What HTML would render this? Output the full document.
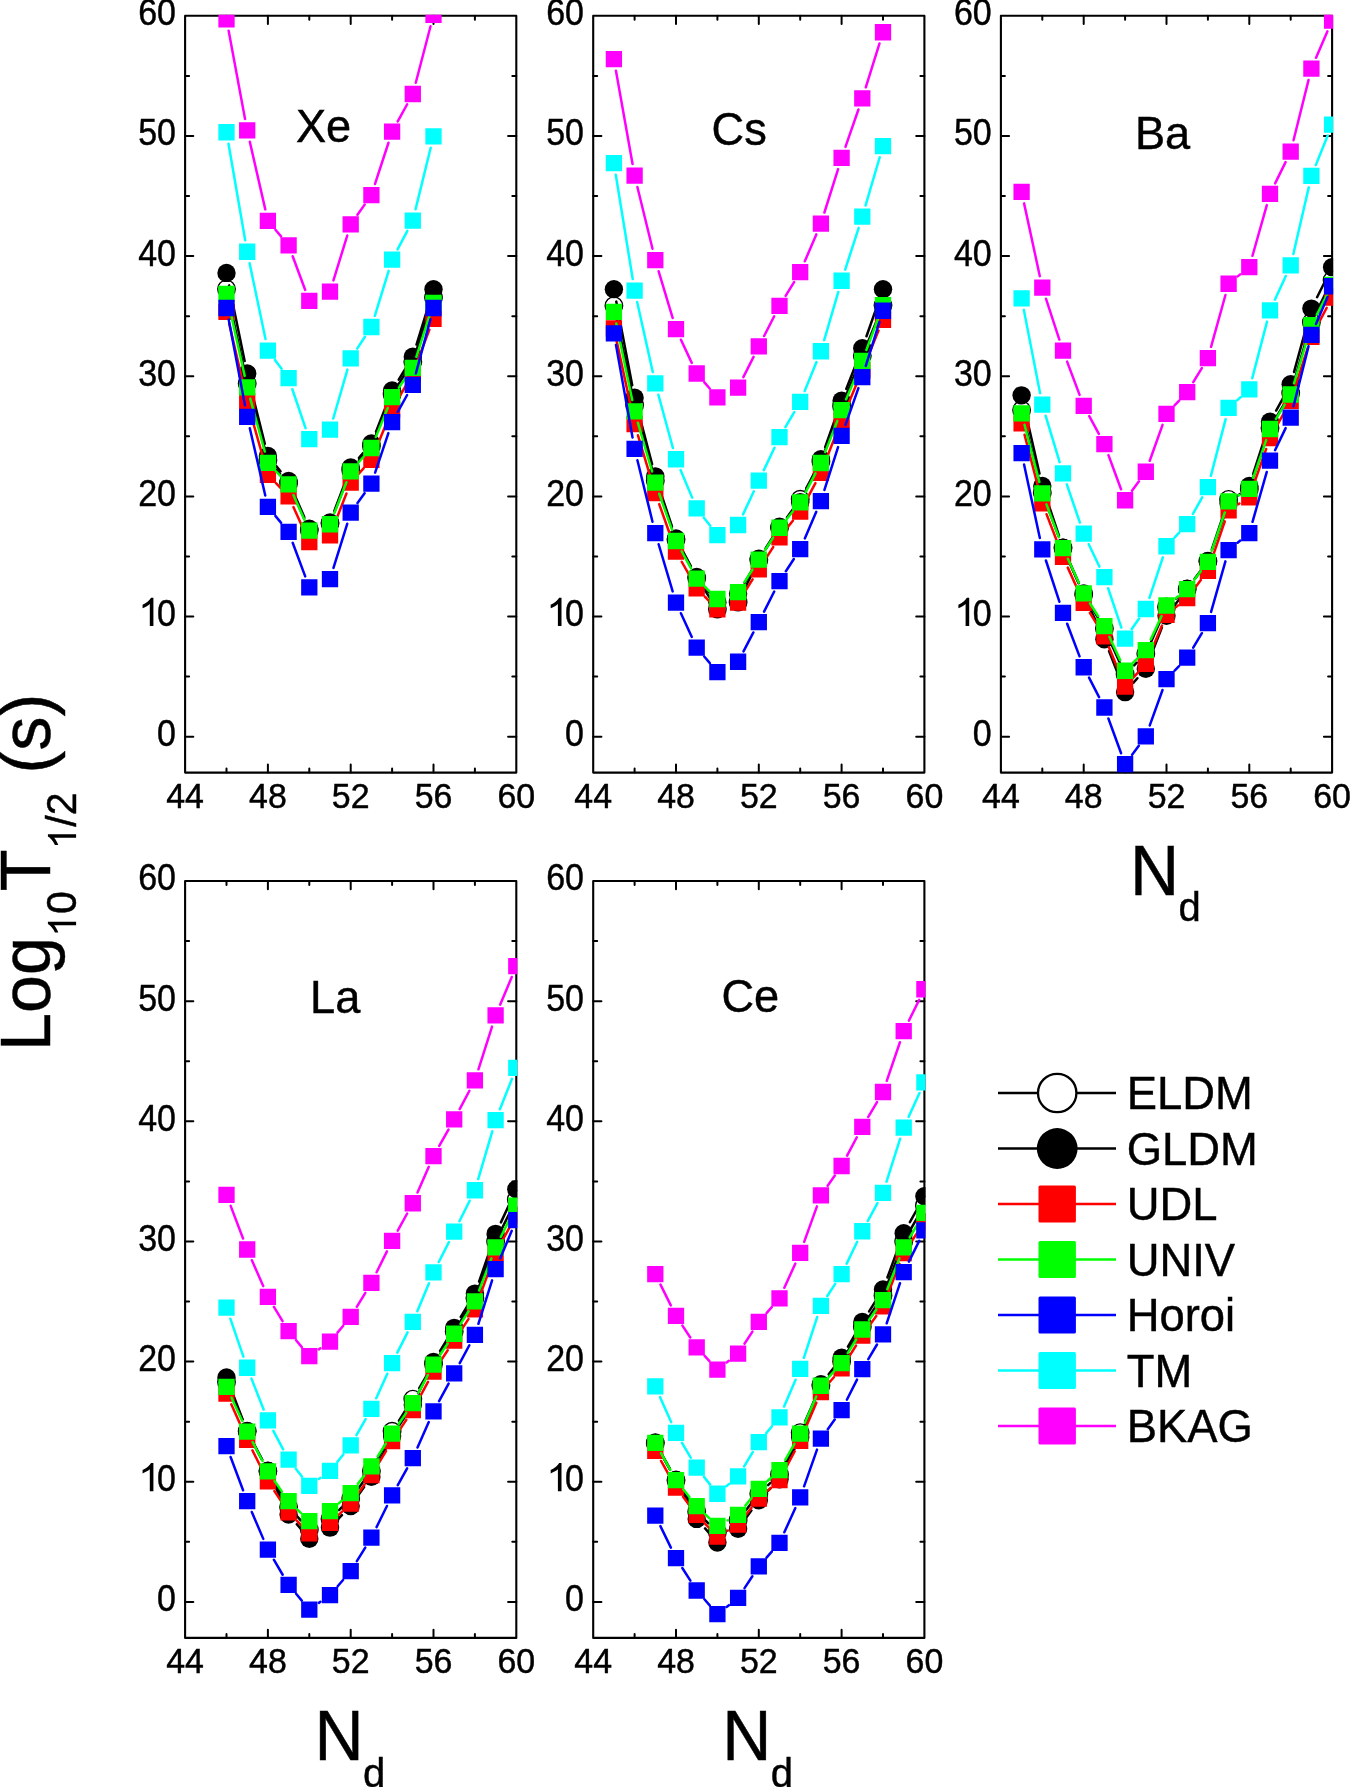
<!DOCTYPE html><html><head><meta charset="utf-8"><style>html,body{margin:0;padding:0;background:#fff;}svg{display:block;will-change:transform;}text{font-family:"Liberation Sans",sans-serif;fill:#000;stroke:#000;stroke-width:0.45px;}</style></head><body>
<svg width="1350" height="1787" viewBox="0 0 1350 1787">
<rect width="1350" height="1787" fill="#fff"/>
<defs>
<clipPath id="c0"><rect x="184.05" y="14.75" width="333.3" height="758.9"/></clipPath>
<clipPath id="c1"><rect x="592.15" y="14.75" width="333.3" height="758.9"/></clipPath>
<clipPath id="c2"><rect x="999.85" y="14.75" width="333.3" height="758.9"/></clipPath>
<clipPath id="c3"><rect x="184.05" y="879.95" width="333.3" height="759"/></clipPath>
<clipPath id="c4"><rect x="592.15" y="879.95" width="333.3" height="759"/></clipPath>
</defs>
<path d="M226.5 772.6v-4M226.5 15.8v4M267.9 772.6v-8.2M267.9 15.8v8.2M309.3 772.6v-4M309.3 15.8v4M350.7 772.6v-8.2M350.7 15.8v8.2M392.1 772.6v-4M392.1 15.8v4M433.5 772.6v-8.2M433.5 15.8v8.2M474.9 772.6v-4M474.9 15.8v4M185.1 736.7h8.2M516.3 736.7h-8.2M185.1 676.62h4M516.3 676.62h-4M185.1 616.55h8.2M516.3 616.55h-8.2M185.1 556.48h4M516.3 556.48h-4M185.1 496.4h8.2M516.3 496.4h-8.2M185.1 436.33h4M516.3 436.33h-4M185.1 376.25h8.2M516.3 376.25h-8.2M185.1 316.18h4M516.3 316.18h-4M185.1 256.1h8.2M516.3 256.1h-8.2M185.1 196.02h4M516.3 196.02h-4M185.1 135.95h8.2M516.3 135.95h-8.2M185.1 75.88h4M516.3 75.88h-4" stroke="#000" stroke-width="2" stroke-linecap="round" fill="none"/>
<rect x="185.1" y="15.8" width="331.2" height="756.8" fill="none" stroke="#000" stroke-width="2.1" stroke-linejoin="round"/>
<g transform="translate(175.9 746.15)"><text x="0" y="0" font-size="36" transform="translate(-18.88 0) scale(0.943 1)">0</text></g>
<g transform="translate(175.9 626)"><path d="M763 0H583V1098Q518 1038 412 979Q306 920 222 890V1057Q373 1124 486 1221Q599 1318 646 1409H763Z" transform="translate(-37.76 0) scale(0.02 -0.02)"/><text x="0" y="0" font-size="36" transform="translate(-18.88 0) scale(0.943 1)">0</text></g>
<g transform="translate(175.9 505.85)"><text x="0" y="0" font-size="36" transform="translate(-37.76 0) scale(0.943 1)">20</text></g>
<g transform="translate(175.9 385.7)"><text x="0" y="0" font-size="36" transform="translate(-37.76 0) scale(0.943 1)">30</text></g>
<g transform="translate(175.9 265.55)"><text x="0" y="0" font-size="36" transform="translate(-37.76 0) scale(0.943 1)">40</text></g>
<g transform="translate(175.9 145.4)"><text x="0" y="0" font-size="36" transform="translate(-37.76 0) scale(0.943 1)">50</text></g>
<g transform="translate(175.9 25.25)"><text x="0" y="0" font-size="36" transform="translate(-37.76 0) scale(0.943 1)">60</text></g>
<g transform="translate(185.1 808)"><text x="0" y="0" font-size="35.2" transform="translate(-18.87 0) scale(0.964 1)">44</text></g>
<g transform="translate(267.9 808)"><text x="0" y="0" font-size="35.2" transform="translate(-18.87 0) scale(0.964 1)">48</text></g>
<g transform="translate(350.7 808)"><text x="0" y="0" font-size="35.2" transform="translate(-18.87 0) scale(0.964 1)">52</text></g>
<g transform="translate(433.5 808)"><text x="0" y="0" font-size="35.2" transform="translate(-18.87 0) scale(0.964 1)">56</text></g>
<g transform="translate(516.3 808)"><text x="0" y="0" font-size="35.2" transform="translate(-18.87 0) scale(0.964 1)">60</text></g>
<g clip-path="url(#c0)">
<path d="M229.22 301.31L244.48 371.05M250.5 395.72L264.6 448.09M276.43 469.76L280.07 473.78M293.73 494.8L304.17 518.43M334.59 511.59L346.11 481.81M358.99 460.34L363.11 455.56M376.12 434.15L387.38 406.06M398.93 383.57L405.97 372.54M416.69 349.74L429.61 309.64" stroke="#000" stroke-width="2.5" stroke-linecap="round" fill="none"/>
<circle cx="226.5" cy="288.9" r="8.75" fill="#fff" stroke="#000" stroke-width="1.4"/>
<circle cx="247.2" cy="383.46" r="8.75" fill="#fff" stroke="#000" stroke-width="1.4"/>
<circle cx="267.9" cy="460.36" r="8.75" fill="#fff" stroke="#000" stroke-width="1.4"/>
<circle cx="288.6" cy="483.18" r="8.75" fill="#fff" stroke="#000" stroke-width="1.4"/>
<circle cx="309.3" cy="530.04" r="8.75" fill="#fff" stroke="#000" stroke-width="1.4"/>
<circle cx="330" cy="523.43" r="8.75" fill="#fff" stroke="#000" stroke-width="1.4"/>
<circle cx="350.7" cy="469.97" r="8.75" fill="#fff" stroke="#000" stroke-width="1.4"/>
<circle cx="371.4" cy="445.94" r="8.75" fill="#fff" stroke="#000" stroke-width="1.4"/>
<circle cx="392.1" cy="394.27" r="8.75" fill="#fff" stroke="#000" stroke-width="1.4"/>
<circle cx="412.8" cy="361.83" r="8.75" fill="#fff" stroke="#000" stroke-width="1.4"/>
<circle cx="433.5" cy="297.55" r="8.75" fill="#fff" stroke="#000" stroke-width="1.4"/>
<path d="M229.06 285.36L244.64 361.05M250.29 385.81L264.81 443.71M276 465.81L280.5 471.24M293.66 492.67L304.24 517.07M334.48 510.59L346.22 479.45M358.99 457.94L363.11 453.16M376.02 431.7L387.48 402.38M398.72 379.71L406.18 367.5M416.52 344.52L429.78 301.28" stroke="#000" stroke-width="2.5" stroke-linecap="round" fill="none"/>
<circle cx="226.5" cy="272.92" r="9.2" fill="#000"/>
<circle cx="247.2" cy="373.49" r="9.2" fill="#000"/>
<circle cx="267.9" cy="456.03" r="9.2" fill="#000"/>
<circle cx="288.6" cy="481.02" r="9.2" fill="#000"/>
<circle cx="309.3" cy="528.72" r="9.2" fill="#000"/>
<circle cx="330" cy="522.47" r="9.2" fill="#000"/>
<circle cx="350.7" cy="467.56" r="9.2" fill="#000"/>
<circle cx="371.4" cy="443.53" r="9.2" fill="#000"/>
<circle cx="392.1" cy="390.55" r="9.2" fill="#000"/>
<circle cx="412.8" cy="356.67" r="9.2" fill="#000"/>
<circle cx="433.5" cy="289.14" r="9.2" fill="#000"/>
<path d="M229.13 323.25L244.57 390.08M250.38 412.74L264.72 463.51M275.99 483.23L280.51 487.95M293.43 507.06L304.47 531.4M334.27 524.55L346.43 493.48M358.56 473.92L363.54 468.42M375.86 448.94L387.64 420.35M397.91 399.38L406.99 383.52M416.95 362.43L429.35 329.76" stroke="#ff0000" stroke-width="2.5" stroke-linecap="round" fill="none"/>
<path fill="#ff0000" d="M218.35 303.7h16.3v16.3h-16.3zM239.05 393.33h16.3v16.3h-16.3zM259.75 466.62h16.3v16.3h-16.3zM280.45 488.25h16.3v16.3h-16.3zM301.15 533.91h16.3v16.3h-16.3zM321.85 527.3h16.3v16.3h-16.3zM342.55 474.43h16.3v16.3h-16.3zM363.25 451.6h16.3v16.3h-16.3zM383.95 401.38h16.3v16.3h-16.3zM404.65 365.22h16.3v16.3h-16.3zM425.35 310.67h16.3v16.3h-16.3z"/>
<path d="M229.03 305.37L244.67 375.88M250.29 398.59L264.81 451.59M276.01 471.31L280.49 475.96M293.38 495.06L304.52 519.96M334.26 513.38L346.44 482.19M358.47 462.54L363.63 456.73M375.81 437.14L387.69 407.99M398.87 387.61L406.03 377.5M416.35 356.81L429.95 314.11" stroke="#00ff00" stroke-width="2.5" stroke-linecap="round" fill="none"/>
<path fill="#00ff00" d="M218.35 285.8h16.3v16.3h-16.3zM239.05 379.15h16.3v16.3h-16.3zM259.75 454.73h16.3v16.3h-16.3zM280.45 476.24h16.3v16.3h-16.3zM301.15 522.49h16.3v16.3h-16.3zM321.85 516.12h16.3v16.3h-16.3zM342.55 463.14h16.3v16.3h-16.3zM363.25 439.83h16.3v16.3h-16.3zM383.95 389.01h16.3v16.3h-16.3zM404.65 359.81h16.3v16.3h-16.3zM425.35 294.81h16.3v16.3h-16.3z"/>
<path d="M228.69 319.5L245.01 405.37M249.82 428.26L265.28 495.45M275.36 515.86L281.14 522.83M292.69 542.81L305.21 576.39M333.48 567.89L347.22 523.79M357.5 503.1L364.6 493.18M375.12 472.57L388.38 433.12M397.78 411.8L407.12 395.01M415.85 373.48L430.45 319.3" stroke="#0000ff" stroke-width="2.5" stroke-linecap="round" fill="none"/>
<path fill="#0000ff" d="M218.35 299.85h16.3v16.3h-16.3zM239.05 408.71h16.3v16.3h-16.3zM259.75 498.7h16.3v16.3h-16.3zM280.45 523.69h16.3v16.3h-16.3zM301.15 579.2h16.3v16.3h-16.3zM321.85 570.91h16.3v16.3h-16.3zM342.55 504.47h16.3v16.3h-16.3zM363.25 475.51h16.3v16.3h-16.3zM383.95 413.88h16.3v16.3h-16.3zM404.65 376.63h16.3v16.3h-16.3zM425.35 299.85h16.3v16.3h-16.3z"/>
<path d="M228.5 143.75L245.2 240.25M249.6 263.23L265.5 339.09M274.91 359.9L281.59 368.81M292.36 389.25L305.54 428.13M333.26 418.48L347.44 369.58M357.15 348.58L364.95 336.75M374.84 315.81L388.66 270.89M397.57 249.36L407.33 230.88M415.6 209.17L430.7 147.79" stroke="#00ffff" stroke-width="2.5" stroke-linecap="round" fill="none"/>
<path fill="#00ffff" d="M218.35 124.08h16.3v16.3h-16.3zM239.05 243.62h16.3v16.3h-16.3zM259.75 342.39h16.3v16.3h-16.3zM280.45 370.02h16.3v16.3h-16.3zM301.15 431.06h16.3v16.3h-16.3zM321.85 421.57h16.3v16.3h-16.3zM342.55 350.2h16.3v16.3h-16.3zM363.25 318.84h16.3v16.3h-16.3zM383.95 251.55h16.3v16.3h-16.3zM404.65 212.39h16.3v16.3h-16.3zM425.35 128.28h16.3v16.3h-16.3z"/>
<path d="M228.64 30.79L245.06 118.92M249.81 141.83L265.29 209.37M275.45 229.71L281.05 236.35M292.68 256.25L305.22 289.95M333.45 280.36L347.25 235.56M357.45 214.82L364.65 204.62M375.03 183.94L388.47 142.75M397.74 121.37L407.16 104.27M415.76 82.7L430.54 26.28" stroke="#ff00ff" stroke-width="2.5" stroke-linecap="round" fill="none"/>
<path fill="#ff00ff" d="M218.35 11.13h16.3v16.3h-16.3zM239.05 122.27h16.3v16.3h-16.3zM259.75 212.63h16.3v16.3h-16.3zM280.45 237.14h16.3v16.3h-16.3zM301.15 292.77h16.3v16.3h-16.3zM321.85 283.39h16.3v16.3h-16.3zM342.55 216.23h16.3v16.3h-16.3zM363.25 186.91h16.3v16.3h-16.3zM383.95 123.47h16.3v16.3h-16.3zM404.65 85.87h16.3v16.3h-16.3zM425.35 6.81h16.3v16.3h-16.3z"/>
</g>
<text x="0" y="0" font-size="46" text-anchor="middle" transform="translate(323.5 141.9) scale(0.982 1)">Xe</text>
<path d="M634.6 772.6v-4M634.6 15.8v4M676 772.6v-8.2M676 15.8v8.2M717.4 772.6v-4M717.4 15.8v4M758.8 772.6v-8.2M758.8 15.8v8.2M800.2 772.6v-4M800.2 15.8v4M841.6 772.6v-8.2M841.6 15.8v8.2M883 772.6v-4M883 15.8v4M593.2 736.7h8.2M924.4 736.7h-8.2M593.2 676.62h4M924.4 676.62h-4M593.2 616.55h8.2M924.4 616.55h-8.2M593.2 556.48h4M924.4 556.48h-4M593.2 496.4h8.2M924.4 496.4h-8.2M593.2 436.33h4M924.4 436.33h-4M593.2 376.25h8.2M924.4 376.25h-8.2M593.2 316.18h4M924.4 316.18h-4M593.2 256.1h8.2M924.4 256.1h-8.2M593.2 196.02h4M924.4 196.02h-4M593.2 135.95h8.2M924.4 135.95h-8.2M593.2 75.88h4M924.4 75.88h-4" stroke="#000" stroke-width="2" stroke-linecap="round" fill="none"/>
<rect x="593.2" y="15.8" width="331.2" height="756.8" fill="none" stroke="#000" stroke-width="2.1" stroke-linejoin="round"/>
<g transform="translate(584 746.15)"><text x="0" y="0" font-size="36" transform="translate(-18.88 0) scale(0.943 1)">0</text></g>
<g transform="translate(584 626)"><path d="M763 0H583V1098Q518 1038 412 979Q306 920 222 890V1057Q373 1124 486 1221Q599 1318 646 1409H763Z" transform="translate(-37.76 0) scale(0.02 -0.02)"/><text x="0" y="0" font-size="36" transform="translate(-18.88 0) scale(0.943 1)">0</text></g>
<g transform="translate(584 505.85)"><text x="0" y="0" font-size="36" transform="translate(-37.76 0) scale(0.943 1)">20</text></g>
<g transform="translate(584 385.7)"><text x="0" y="0" font-size="36" transform="translate(-37.76 0) scale(0.943 1)">30</text></g>
<g transform="translate(584 265.55)"><text x="0" y="0" font-size="36" transform="translate(-37.76 0) scale(0.943 1)">40</text></g>
<g transform="translate(584 145.4)"><text x="0" y="0" font-size="36" transform="translate(-37.76 0) scale(0.943 1)">50</text></g>
<g transform="translate(584 25.25)"><text x="0" y="0" font-size="36" transform="translate(-37.76 0) scale(0.943 1)">60</text></g>
<g transform="translate(593.2 808)"><text x="0" y="0" font-size="35.2" transform="translate(-18.87 0) scale(0.964 1)">44</text></g>
<g transform="translate(676 808)"><text x="0" y="0" font-size="35.2" transform="translate(-18.87 0) scale(0.964 1)">48</text></g>
<g transform="translate(758.8 808)"><text x="0" y="0" font-size="35.2" transform="translate(-18.87 0) scale(0.964 1)">52</text></g>
<g transform="translate(841.6 808)"><text x="0" y="0" font-size="35.2" transform="translate(-18.87 0) scale(0.964 1)">56</text></g>
<g transform="translate(924.4 808)"><text x="0" y="0" font-size="35.2" transform="translate(-18.87 0) scale(0.964 1)">60</text></g>
<g clip-path="url(#c1)">
<path d="M616.49 318.16L632.01 392.65M637.95 417.34L651.95 468.53M659.51 492.76L671.79 527.67M682.02 550.84L690.68 566.92M703.77 588.65L710.33 598.43M743.71 590.74L753.19 571.47M765.63 549.37L772.67 538.35M786.99 517.38L792.71 509.54M806.31 488.15L814.79 472.69M825.35 449.66L837.15 418.18M846.42 394.54L857.48 367.57M867.12 344.07L878.18 317.11" stroke="#000" stroke-width="2.5" stroke-linecap="round" fill="none"/>
<circle cx="613.9" cy="305.72" r="8.75" fill="#fff" stroke="#000" stroke-width="1.4"/>
<circle cx="634.6" cy="405.09" r="8.75" fill="#fff" stroke="#000" stroke-width="1.4"/>
<circle cx="655.3" cy="480.78" r="8.75" fill="#fff" stroke="#000" stroke-width="1.4"/>
<circle cx="676" cy="539.65" r="8.75" fill="#fff" stroke="#000" stroke-width="1.4"/>
<circle cx="696.7" cy="578.1" r="8.75" fill="#fff" stroke="#000" stroke-width="1.4"/>
<circle cx="717.4" cy="608.98" r="8.75" fill="#fff" stroke="#000" stroke-width="1.4"/>
<circle cx="738.1" cy="602.13" r="8.75" fill="#fff" stroke="#000" stroke-width="1.4"/>
<circle cx="758.8" cy="560.08" r="8.75" fill="#fff" stroke="#000" stroke-width="1.4"/>
<circle cx="779.5" cy="527.64" r="8.75" fill="#fff" stroke="#000" stroke-width="1.4"/>
<circle cx="800.2" cy="499.28" r="8.75" fill="#fff" stroke="#000" stroke-width="1.4"/>
<circle cx="820.9" cy="461.56" r="8.75" fill="#fff" stroke="#000" stroke-width="1.4"/>
<circle cx="841.6" cy="406.29" r="8.75" fill="#fff" stroke="#000" stroke-width="1.4"/>
<circle cx="862.3" cy="355.82" r="8.75" fill="#fff" stroke="#000" stroke-width="1.4"/>
<circle cx="883" cy="305.36" r="8.75" fill="#fff" stroke="#000" stroke-width="1.4"/>
<path d="M616.28 301.62L632.22 385.16M637.83 409.92L652.07 464.05M659.32 488.38L671.98 526.4M682.02 549.63L690.68 565.72M704.76 586.72L709.34 592.31M744.57 582.79L752.33 569.69M765.69 548.09L772.61 537.35M787.72 516.99L791.98 511.97M805.69 490.84L815.41 470.6M825.14 447.18L837.36 412.73M846.26 388.95L857.64 360.07M866.5 336.27L878.8 301.13" stroke="#000" stroke-width="2.5" stroke-linecap="round" fill="none"/>
<circle cx="613.9" cy="289.14" r="9.2" fill="#000"/>
<circle cx="634.6" cy="397.64" r="9.2" fill="#000"/>
<circle cx="655.3" cy="476.33" r="9.2" fill="#000"/>
<circle cx="676" cy="538.45" r="9.2" fill="#000"/>
<circle cx="696.7" cy="576.9" r="9.2" fill="#000"/>
<circle cx="717.4" cy="602.13" r="9.2" fill="#000"/>
<circle cx="738.1" cy="593.72" r="9.2" fill="#000"/>
<circle cx="758.8" cy="558.76" r="9.2" fill="#000"/>
<circle cx="779.5" cy="526.68" r="9.2" fill="#000"/>
<circle cx="800.2" cy="502.29" r="9.2" fill="#000"/>
<circle cx="820.9" cy="459.15" r="9.2" fill="#000"/>
<circle cx="841.6" cy="400.76" r="9.2" fill="#000"/>
<circle cx="862.3" cy="348.26" r="9.2" fill="#000"/>
<circle cx="883" cy="289.14" r="9.2" fill="#000"/>
<path d="M616.38 339.87L632.12 412.63M637.96 435.28L651.94 481.83M659.2 504.07L672.1 540.52M681.73 561.75L690.97 578.23M704.93 596.75L709.17 601.03M744.31 592.58L752.59 579.37M765.13 559.61L773.17 547.09M786.86 528.15L792.84 520.76M805.71 501.34L815.39 483.17M825.17 461.96L837.33 430.88M846.1 409.18L857.8 381.04M866.74 359.42L878.56 330.6" stroke="#ff0000" stroke-width="2.5" stroke-linecap="round" fill="none"/>
<path fill="#ff0000" d="M605.75 320.28h16.3v16.3h-16.3zM626.45 415.92h16.3v16.3h-16.3zM647.15 484.89h16.3v16.3h-16.3zM667.85 543.4h16.3v16.3h-16.3zM688.55 580.28h16.3v16.3h-16.3zM709.25 601.19h16.3v16.3h-16.3zM729.95 594.34h16.3v16.3h-16.3zM750.65 561.3h16.3v16.3h-16.3zM771.35 529.1h16.3v16.3h-16.3zM792.05 503.51h16.3v16.3h-16.3zM812.75 464.7h16.3v16.3h-16.3zM833.45 411.83h16.3v16.3h-16.3zM854.15 362.09h16.3v16.3h-16.3zM874.85 311.63h16.3v16.3h-16.3z"/>
<path d="M616.28 323.42L632.22 400M637.86 422.69L652.04 471.47M659.22 493.73L672.08 529.95M681.64 551.23L691.06 568.33M705.03 586.8L709.07 590.79M744.41 582.19L752.49 569.57M765.16 549.9L773.14 537.58M786.9 518.7L792.8 511.47M805.64 492.05L815.46 473.36M825.17 452.1L837.33 421.03M846.14 399.35L857.76 371.77M866.37 350.02L878.93 316.21" stroke="#00ff00" stroke-width="2.5" stroke-linecap="round" fill="none"/>
<path fill="#00ff00" d="M605.75 303.82h16.3v16.3h-16.3zM626.45 403.3h16.3v16.3h-16.3zM647.15 474.55h16.3v16.3h-16.3zM667.85 532.83h16.3v16.3h-16.3zM688.55 570.43h16.3v16.3h-16.3zM709.25 590.86h16.3v16.3h-16.3zM729.95 583.89h16.3v16.3h-16.3zM750.65 551.57h16.3v16.3h-16.3zM771.35 519.61h16.3v16.3h-16.3zM792.05 494.26h16.3v16.3h-16.3zM812.75 454.85h16.3v16.3h-16.3zM833.45 401.98h16.3v16.3h-16.3zM854.15 352.84h16.3v16.3h-16.3zM874.85 297.09h16.3v16.3h-16.3z"/>
<path d="M615.96 344.87L632.54 437.42M637.4 460.3L652.5 521.68M658.64 544.26L672.66 591.4M680.9 613.24L691.8 636.92M704.25 656.49L709.85 663.12M743.51 651.35L753.39 632.45M764.08 611.63L774.22 591.55M785.86 571.29L793.84 558.97M804.83 538.4L816.27 511.83M824.44 489.94L838.06 447.11M845.48 424.93L858.42 388.13M865.79 365.92L879.51 321.94" stroke="#0000ff" stroke-width="2.5" stroke-linecap="round" fill="none"/>
<path fill="#0000ff" d="M605.75 325.21h16.3v16.3h-16.3zM626.45 440.79h16.3v16.3h-16.3zM647.15 524.9h16.3v16.3h-16.3zM667.85 594.46h16.3v16.3h-16.3zM688.55 639.4h16.3v16.3h-16.3zM709.25 663.91h16.3v16.3h-16.3zM729.95 653.58h16.3v16.3h-16.3zM750.65 613.93h16.3v16.3h-16.3zM771.35 572.96h16.3v16.3h-16.3zM792.05 541h16.3v16.3h-16.3zM812.75 492.94h16.3v16.3h-16.3zM833.45 427.81h16.3v16.3h-16.3zM854.15 368.94h16.3v16.3h-16.3zM874.85 302.62h16.3v16.3h-16.3z"/>
<path d="M615.78 174.77L632.72 279.03M637.15 302L652.75 372.04M658.38 394.75L672.92 447.99M680.54 470.06L692.16 497.63M703.87 517.66L710.23 525.85M743.05 514.39L753.85 491.26M763.83 470.1L774.47 447.73M785.43 427.08L794.27 412.05M804.62 391.13L816.48 362.09M824.19 340.03L838.31 291.96M845.2 269.6L858.7 227.82M865.59 205.46L879.71 157.27" stroke="#00ffff" stroke-width="2.5" stroke-linecap="round" fill="none"/>
<path fill="#00ffff" d="M605.75 155.07h16.3v16.3h-16.3zM626.45 282.43h16.3v16.3h-16.3zM647.15 375.31h16.3v16.3h-16.3zM667.85 451.12h16.3v16.3h-16.3zM688.55 500.27h16.3v16.3h-16.3zM709.25 526.94h16.3v16.3h-16.3zM729.95 516.85h16.3v16.3h-16.3zM750.65 472.51h16.3v16.3h-16.3zM771.35 429.02h16.3v16.3h-16.3zM792.05 393.81h16.3v16.3h-16.3zM812.75 343.11h16.3v16.3h-16.3zM833.45 272.58h16.3v16.3h-16.3zM854.15 208.54h16.3v16.3h-16.3zM874.85 137.89h16.3v16.3h-16.3z"/>
<path d="M615.95 70.69L632.55 164.08M637.38 186.96L652.52 248.7M658.66 271.27L672.64 317.94M680.95 339.75L691.75 362.89M704.38 382.31L709.72 388.45M743.36 377.1L753.54 356.9M764.11 336.03L774.19 316.27M785.62 295.87L794.08 282.05M804.8 261.32L816.3 234.42M824.41 212.5L838.09 169.1M845.45 146.89L858.45 109.51M865.79 87.3L879.51 43.43" stroke="#ff00ff" stroke-width="2.5" stroke-linecap="round" fill="none"/>
<path fill="#ff00ff" d="M605.75 51.02h16.3v16.3h-16.3zM626.45 167.45h16.3v16.3h-16.3zM647.15 251.91h16.3v16.3h-16.3zM667.85 321h16.3v16.3h-16.3zM688.55 365.34h16.3v16.3h-16.3zM709.25 389.13h16.3v16.3h-16.3zM729.95 379.39h16.3v16.3h-16.3zM750.65 338.3h16.3v16.3h-16.3zM771.35 297.69h16.3v16.3h-16.3zM792.05 263.93h16.3v16.3h-16.3zM812.75 215.51h16.3v16.3h-16.3zM833.45 149.79h16.3v16.3h-16.3zM854.15 90.31h16.3v16.3h-16.3zM874.85 24.11h16.3v16.3h-16.3z"/>
</g>
<text x="0" y="0" font-size="46" text-anchor="middle" transform="translate(739.2 144.5) scale(0.982 1)">Cs</text>
<path d="M1042.3 772.6v-4M1042.3 15.8v4M1083.7 772.6v-8.2M1083.7 15.8v8.2M1125.1 772.6v-4M1125.1 15.8v4M1166.5 772.6v-8.2M1166.5 15.8v8.2M1207.9 772.6v-4M1207.9 15.8v4M1249.3 772.6v-8.2M1249.3 15.8v8.2M1290.7 772.6v-4M1290.7 15.8v4M1000.9 736.7h8.2M1332.1 736.7h-8.2M1000.9 676.62h4M1332.1 676.62h-4M1000.9 616.55h8.2M1332.1 616.55h-8.2M1000.9 556.48h4M1332.1 556.48h-4M1000.9 496.4h8.2M1332.1 496.4h-8.2M1000.9 436.33h4M1332.1 436.33h-4M1000.9 376.25h8.2M1332.1 376.25h-8.2M1000.9 316.18h4M1332.1 316.18h-4M1000.9 256.1h8.2M1332.1 256.1h-8.2M1000.9 196.02h4M1332.1 196.02h-4M1000.9 135.95h8.2M1332.1 135.95h-8.2M1000.9 75.88h4M1332.1 75.88h-4" stroke="#000" stroke-width="2" stroke-linecap="round" fill="none"/>
<rect x="1000.9" y="15.8" width="331.2" height="756.8" fill="none" stroke="#000" stroke-width="2.1" stroke-linejoin="round"/>
<g transform="translate(991.7 746.15)"><text x="0" y="0" font-size="36" transform="translate(-18.88 0) scale(0.943 1)">0</text></g>
<g transform="translate(991.7 626)"><path d="M763 0H583V1098Q518 1038 412 979Q306 920 222 890V1057Q373 1124 486 1221Q599 1318 646 1409H763Z" transform="translate(-37.76 0) scale(0.02 -0.02)"/><text x="0" y="0" font-size="36" transform="translate(-18.88 0) scale(0.943 1)">0</text></g>
<g transform="translate(991.7 505.85)"><text x="0" y="0" font-size="36" transform="translate(-37.76 0) scale(0.943 1)">20</text></g>
<g transform="translate(991.7 385.7)"><text x="0" y="0" font-size="36" transform="translate(-37.76 0) scale(0.943 1)">30</text></g>
<g transform="translate(991.7 265.55)"><text x="0" y="0" font-size="36" transform="translate(-37.76 0) scale(0.943 1)">40</text></g>
<g transform="translate(991.7 145.4)"><text x="0" y="0" font-size="36" transform="translate(-37.76 0) scale(0.943 1)">50</text></g>
<g transform="translate(991.7 25.25)"><text x="0" y="0" font-size="36" transform="translate(-37.76 0) scale(0.943 1)">60</text></g>
<g transform="translate(1000.9 808)"><text x="0" y="0" font-size="35.2" transform="translate(-18.87 0) scale(0.964 1)">44</text></g>
<g transform="translate(1083.7 808)"><text x="0" y="0" font-size="35.2" transform="translate(-18.87 0) scale(0.964 1)">48</text></g>
<g transform="translate(1166.5 808)"><text x="0" y="0" font-size="35.2" transform="translate(-18.87 0) scale(0.964 1)">52</text></g>
<g transform="translate(1249.3 808)"><text x="0" y="0" font-size="35.2" transform="translate(-18.87 0) scale(0.964 1)">56</text></g>
<g transform="translate(1332.1 808)"><text x="0" y="0" font-size="35.2" transform="translate(-18.87 0) scale(0.964 1)">60</text></g>
<g clip-path="url(#c2)">
<path d="M1024.68 422.21L1039.22 480.47M1046.75 504.69L1058.55 536.17M1068.24 559.63L1078.46 582.15M1090.19 604.64L1097.91 617.65M1109.64 640.13L1119.86 662.66M1134.14 665.3L1136.76 662.72M1150.93 642.18L1161.37 618.55M1176.08 598.6L1177.62 597.25M1194.81 578.75L1200.29 571.45M1211.93 549.24L1224.57 511.45M1253.36 477.16L1265.94 439.95M1276.49 417L1284.21 403.99M1294.26 380.88L1307.84 334.37M1317.01 310.79L1326.49 291.52" stroke="#000" stroke-width="2.5" stroke-linecap="round" fill="none"/>
<circle cx="1021.6" cy="409.89" r="8.75" fill="#fff" stroke="#000" stroke-width="1.4"/>
<circle cx="1042.3" cy="492.8" r="8.75" fill="#fff" stroke="#000" stroke-width="1.4"/>
<circle cx="1063" cy="548.06" r="8.75" fill="#fff" stroke="#000" stroke-width="1.4"/>
<circle cx="1083.7" cy="593.72" r="8.75" fill="#fff" stroke="#000" stroke-width="1.4"/>
<circle cx="1104.4" cy="628.57" r="8.75" fill="#fff" stroke="#000" stroke-width="1.4"/>
<circle cx="1125.1" cy="674.22" r="8.75" fill="#fff" stroke="#000" stroke-width="1.4"/>
<circle cx="1145.8" cy="653.8" r="8.75" fill="#fff" stroke="#000" stroke-width="1.4"/>
<circle cx="1166.5" cy="606.94" r="8.75" fill="#fff" stroke="#000" stroke-width="1.4"/>
<circle cx="1187.2" cy="588.92" r="8.75" fill="#fff" stroke="#000" stroke-width="1.4"/>
<circle cx="1207.9" cy="561.28" r="8.75" fill="#fff" stroke="#000" stroke-width="1.4"/>
<circle cx="1228.6" cy="499.4" r="8.75" fill="#fff" stroke="#000" stroke-width="1.4"/>
<circle cx="1249.3" cy="489.19" r="8.75" fill="#fff" stroke="#000" stroke-width="1.4"/>
<circle cx="1270" cy="427.91" r="8.75" fill="#fff" stroke="#000" stroke-width="1.4"/>
<circle cx="1290.7" cy="393.07" r="8.75" fill="#fff" stroke="#000" stroke-width="1.4"/>
<circle cx="1311.4" cy="322.18" r="8.75" fill="#fff" stroke="#000" stroke-width="1.4"/>
<circle cx="1332.1" cy="280.13" r="8.75" fill="#fff" stroke="#000" stroke-width="1.4"/>
<path d="M1024.43 407.73L1039.47 473.57M1046.34 497.99L1058.96 535.54M1068.09 559.22L1078.61 583.29M1089.07 606.43L1099.03 627.75M1109.03 651.08L1120.47 680.3M1133.51 682.61L1137.39 678.21M1150.43 656.87L1161.87 627.65M1174.24 605.76L1179.46 598.98M1194.81 578.75L1200.29 571.45M1212.19 549.33L1224.31 515.56M1238.26 495.37L1239.64 494.19M1253.19 473.86L1266.11 433.76M1276.14 410.55L1284.56 395.3M1294.05 371.93L1308.05 320.85M1317.07 297.24L1326.43 278.52" stroke="#000" stroke-width="2.5" stroke-linecap="round" fill="none"/>
<circle cx="1021.6" cy="395.35" r="9.2" fill="#000"/>
<circle cx="1042.3" cy="485.95" r="9.2" fill="#000"/>
<circle cx="1063" cy="547.58" r="9.2" fill="#000"/>
<circle cx="1083.7" cy="594.92" r="9.2" fill="#000"/>
<circle cx="1104.4" cy="639.26" r="9.2" fill="#000"/>
<circle cx="1125.1" cy="692.12" r="9.2" fill="#000"/>
<circle cx="1145.8" cy="668.7" r="9.2" fill="#000"/>
<circle cx="1166.5" cy="615.83" r="9.2" fill="#000"/>
<circle cx="1187.2" cy="588.92" r="9.2" fill="#000"/>
<circle cx="1207.9" cy="561.28" r="9.2" fill="#000"/>
<circle cx="1228.6" cy="503.61" r="9.2" fill="#000"/>
<circle cx="1249.3" cy="485.95" r="9.2" fill="#000"/>
<circle cx="1270" cy="421.67" r="9.2" fill="#000"/>
<circle cx="1290.7" cy="384.18" r="9.2" fill="#000"/>
<circle cx="1311.4" cy="308.61" r="9.2" fill="#000"/>
<circle cx="1332.1" cy="267.15" r="9.2" fill="#000"/>
<path d="M1024.53 434.67L1039.37 491.92M1046.51 514.17L1058.79 546.04M1067.8 567.63L1078.9 592.3M1089.88 612.91L1098.22 626.32M1108.85 647.08L1120.65 675.78M1132.98 677.95L1137.92 672.54M1150.34 653.11L1161.96 625.53M1175.61 607.4L1178.09 605.39M1194.27 588.73L1200.83 580.09M1211.69 559.7L1224.81 521.41M1238.49 504.08L1239.41 503.5M1253.16 486.2L1266.14 449.05M1275.68 427.78L1285.02 410.99M1294.3 389.63L1307.8 347.97M1316.85 326.49L1326.65 307.9" stroke="#ff0000" stroke-width="2.5" stroke-linecap="round" fill="none"/>
<path fill="#ff0000" d="M1013.45 415.2h16.3v16.3h-16.3zM1034.15 495.1h16.3v16.3h-16.3zM1054.85 548.81h16.3v16.3h-16.3zM1075.55 594.82h16.3v16.3h-16.3zM1096.25 628.1h16.3v16.3h-16.3zM1116.95 678.45h16.3v16.3h-16.3zM1137.65 655.74h16.3v16.3h-16.3zM1158.35 606.6h16.3v16.3h-16.3zM1179.05 589.9h16.3v16.3h-16.3zM1199.75 562.62h16.3v16.3h-16.3zM1220.45 502.19h16.3v16.3h-16.3zM1241.15 489.09h16.3v16.3h-16.3zM1261.85 429.86h16.3v16.3h-16.3zM1282.55 392.61h16.3v16.3h-16.3zM1303.25 328.69h16.3v16.3h-16.3zM1323.95 289.4h16.3v16.3h-16.3z"/>
<path d="M1024.53 424.7L1039.37 482.07M1046.44 504.34L1058.86 537.12M1067.86 558.71L1078.84 582.72M1089.94 603.26L1098.16 616.27M1109.33 636.77L1120.17 660.13M1133.38 662.47L1137.52 658.34M1150.73 639.46L1161.57 616.11M1175.68 598.25L1178.02 596.41M1194.27 579.84L1200.83 571.2M1211.69 550.81L1224.81 512.52M1238.62 495.4L1239.28 495M1253.12 477.89L1266.18 440.06M1276.02 418.96L1284.68 404.54M1294.05 383.3L1308.05 336.4M1316.75 314.78L1326.75 295.34" stroke="#00ff00" stroke-width="2.5" stroke-linecap="round" fill="none"/>
<path fill="#00ff00" d="M1013.45 405.23h16.3v16.3h-16.3zM1034.15 485.25h16.3v16.3h-16.3zM1054.85 539.91h16.3v16.3h-16.3zM1075.55 585.21h16.3v16.3h-16.3zM1096.25 618.01h16.3v16.3h-16.3zM1116.95 662.59h16.3v16.3h-16.3zM1137.65 641.92h16.3v16.3h-16.3zM1158.35 597.35h16.3v16.3h-16.3zM1179.05 581.01h16.3v16.3h-16.3zM1199.75 553.73h16.3v16.3h-16.3zM1220.45 493.3h16.3v16.3h-16.3zM1241.15 480.8h16.3v16.3h-16.3zM1261.85 420.85h16.3v16.3h-16.3zM1282.55 386.36h16.3v16.3h-16.3zM1303.25 317.04h16.3v16.3h-16.3zM1323.95 276.79h16.3v16.3h-16.3z"/>
<path d="M1024.06 464.58L1039.84 537.95M1045.93 560.51L1059.37 601.7M1067.16 623.76L1079.54 656.32M1089.05 677.66L1099.05 697.1M1108.41 718.49L1121.09 753.22M1132.09 754.84L1138.81 745.84M1149.77 725.45L1162.53 690.03M1174.64 670.62L1179.06 666.05M1193.22 647.61L1201.88 633.19M1211.09 611.9L1225.41 561.36M1237.63 542.67L1240.27 540.49M1252.52 521.8L1266.78 471.96M1275.06 450.17L1285.64 428.13M1293.54 406.23L1308.56 346.15M1315.99 324.04L1327.51 297.02" stroke="#0000ff" stroke-width="2.5" stroke-linecap="round" fill="none"/>
<path fill="#0000ff" d="M1013.45 445h16.3v16.3h-16.3zM1034.15 541.24h16.3v16.3h-16.3zM1054.85 604.68h16.3v16.3h-16.3zM1075.55 659.1h16.3v16.3h-16.3zM1096.25 699.35h16.3v16.3h-16.3zM1116.95 756.06h16.3v16.3h-16.3zM1137.65 728.31h16.3v16.3h-16.3zM1158.35 670.88h16.3v16.3h-16.3zM1179.05 649.49h16.3v16.3h-16.3zM1199.75 615.01h16.3v16.3h-16.3zM1220.45 541.96h16.3v16.3h-16.3zM1241.15 524.9h16.3v16.3h-16.3zM1261.85 452.57h16.3v16.3h-16.3zM1282.55 409.43h16.3v16.3h-16.3zM1303.25 326.65h16.3v16.3h-16.3zM1323.95 278.11h16.3v16.3h-16.3z"/>
<path d="M1023.84 309.88L1040.06 393.12M1045.67 415.81L1059.63 462.13M1066.8 484.4L1079.9 522.58M1088.73 544.21L1099.37 566.58M1108.13 588.23L1121.37 627.57M1131.79 629.06L1139.11 618.58M1149.47 597.87L1162.83 557.37M1174.5 537.72L1179.2 532.7M1192.91 513.94L1202.19 497.36M1210.86 475.83L1225.64 419.17M1237.35 400.08L1240.55 397.24M1252.26 378.15L1267.04 321.61M1274.9 299.66L1285.8 275.98M1293.34 253.95L1308.76 187.36M1315.78 165.11L1327.72 135.51" stroke="#00ffff" stroke-width="2.5" stroke-linecap="round" fill="none"/>
<path fill="#00ffff" d="M1013.45 290.24h16.3v16.3h-16.3zM1034.15 396.46h16.3v16.3h-16.3zM1054.85 465.18h16.3v16.3h-16.3zM1075.55 525.5h16.3v16.3h-16.3zM1096.25 568.99h16.3v16.3h-16.3zM1116.95 630.51h16.3v16.3h-16.3zM1137.65 600.83h16.3v16.3h-16.3zM1158.35 538.11h16.3v16.3h-16.3zM1179.05 516h16.3v16.3h-16.3zM1199.75 479h16.3v16.3h-16.3zM1220.45 399.7h16.3v16.3h-16.3zM1241.15 381.32h16.3v16.3h-16.3zM1261.85 302.14h16.3v16.3h-16.3zM1282.55 257.2h16.3v16.3h-16.3zM1303.25 167.81h16.3v16.3h-16.3zM1323.95 116.51h16.3v16.3h-16.3z"/>
<path d="M1024.08 203.38L1039.82 276.14M1045.95 298.7L1059.35 339.54M1067.11 361.61L1079.59 394.85M1089.26 416.1L1098.84 433.84M1108.45 455.11L1121.05 489.27M1131.98 490.78L1138.92 481.23M1149.74 460.75L1162.56 424.87M1174.57 405.38L1179.13 400.58M1193.28 382.12L1201.82 368.1M1211.04 346.84L1225.46 295.01M1237.71 276.39L1240.19 274.38M1252.48 255.78L1266.82 205.12M1275.14 183.35L1285.56 162.08M1293.53 140.22L1308.57 79.9M1316.04 57.8L1327.46 31.35" stroke="#ff00ff" stroke-width="2.5" stroke-linecap="round" fill="none"/>
<path fill="#ff00ff" d="M1013.45 183.79h16.3v16.3h-16.3zM1034.15 279.43h16.3v16.3h-16.3zM1054.85 342.51h16.3v16.3h-16.3zM1075.55 397.66h16.3v16.3h-16.3zM1096.25 435.98h16.3v16.3h-16.3zM1116.95 492.09h16.3v16.3h-16.3zM1137.65 463.62h16.3v16.3h-16.3zM1158.35 405.71h16.3v16.3h-16.3zM1179.05 383.96h16.3v16.3h-16.3zM1199.75 349.96h16.3v16.3h-16.3zM1220.45 275.58h16.3v16.3h-16.3zM1241.15 258.88h16.3v16.3h-16.3zM1261.85 185.71h16.3v16.3h-16.3zM1282.55 143.42h16.3v16.3h-16.3zM1303.25 60.4h16.3v16.3h-16.3zM1323.95 12.46h16.3v16.3h-16.3z"/>
</g>
<text x="0" y="0" font-size="46" text-anchor="middle" transform="translate(1162.6 148.9) scale(0.982 1)">Ba</text>
<path d="M226.5 1637.9v-4M226.5 881v4M267.9 1637.9v-8.2M267.9 881v8.2M309.3 1637.9v-4M309.3 881v4M350.7 1637.9v-8.2M350.7 881v8.2M392.1 1637.9v-4M392.1 881v4M433.5 1637.9v-8.2M433.5 881v8.2M474.9 1637.9v-4M474.9 881v4M185.1 1601.9h8.2M516.3 1601.9h-8.2M185.1 1541.83h4M516.3 1541.83h-4M185.1 1481.75h8.2M516.3 1481.75h-8.2M185.1 1421.68h4M516.3 1421.68h-4M185.1 1361.6h8.2M516.3 1361.6h-8.2M185.1 1301.53h4M516.3 1301.53h-4M185.1 1241.45h8.2M516.3 1241.45h-8.2M185.1 1181.38h4M516.3 1181.38h-4M185.1 1121.3h8.2M516.3 1121.3h-8.2M185.1 1061.22h4M516.3 1061.22h-4M185.1 1001.15h8.2M516.3 1001.15h-8.2M185.1 941.08h4M516.3 941.08h-4" stroke="#000" stroke-width="2" stroke-linecap="round" fill="none"/>
<rect x="185.1" y="881" width="331.2" height="756.9" fill="none" stroke="#000" stroke-width="2.1" stroke-linejoin="round"/>
<g transform="translate(175.9 1611.35)"><text x="0" y="0" font-size="36" transform="translate(-18.88 0) scale(0.943 1)">0</text></g>
<g transform="translate(175.9 1491.2)"><path d="M763 0H583V1098Q518 1038 412 979Q306 920 222 890V1057Q373 1124 486 1221Q599 1318 646 1409H763Z" transform="translate(-37.76 0) scale(0.02 -0.02)"/><text x="0" y="0" font-size="36" transform="translate(-18.88 0) scale(0.943 1)">0</text></g>
<g transform="translate(175.9 1371.05)"><text x="0" y="0" font-size="36" transform="translate(-37.76 0) scale(0.943 1)">20</text></g>
<g transform="translate(175.9 1250.9)"><text x="0" y="0" font-size="36" transform="translate(-37.76 0) scale(0.943 1)">30</text></g>
<g transform="translate(175.9 1130.75)"><text x="0" y="0" font-size="36" transform="translate(-37.76 0) scale(0.943 1)">40</text></g>
<g transform="translate(175.9 1010.6)"><text x="0" y="0" font-size="36" transform="translate(-37.76 0) scale(0.943 1)">50</text></g>
<g transform="translate(175.9 890.45)"><text x="0" y="0" font-size="36" transform="translate(-37.76 0) scale(0.943 1)">60</text></g>
<g transform="translate(185.1 1673.3)"><text x="0" y="0" font-size="35.2" transform="translate(-18.87 0) scale(0.964 1)">44</text></g>
<g transform="translate(267.9 1673.3)"><text x="0" y="0" font-size="35.2" transform="translate(-18.87 0) scale(0.964 1)">48</text></g>
<g transform="translate(350.7 1673.3)"><text x="0" y="0" font-size="35.2" transform="translate(-18.87 0) scale(0.964 1)">52</text></g>
<g transform="translate(433.5 1673.3)"><text x="0" y="0" font-size="35.2" transform="translate(-18.87 0) scale(0.964 1)">56</text></g>
<g transform="translate(516.3 1673.3)"><text x="0" y="0" font-size="35.2" transform="translate(-18.87 0) scale(0.964 1)">60</text></g>
<g clip-path="url(#c3)">
<path d="M231.42 1393.73L242.28 1419.58M253.08 1442.55L262.02 1459.68M274.22 1481.95L282.28 1495.97M297.13 1516.39L300.77 1520.4M339.04 1510.08L341.66 1507.49M358.31 1488.41L363.79 1481.1M377.28 1459.68L386.22 1442.55M398.97 1420.6L405.93 1409.77M419.25 1388.15L427.05 1374.94M440.33 1353.3L447.37 1342.27M460.86 1320.75L468.24 1308.74M479.27 1286L491.23 1253.37M501.21 1230.06L510.69 1210.79" stroke="#000" stroke-width="2.5" stroke-linecap="round" fill="none"/>
<circle cx="226.5" cy="1382.03" r="8.75" fill="#fff" stroke="#000" stroke-width="1.4"/>
<circle cx="247.2" cy="1431.29" r="8.75" fill="#fff" stroke="#000" stroke-width="1.4"/>
<circle cx="267.9" cy="1470.94" r="8.75" fill="#fff" stroke="#000" stroke-width="1.4"/>
<circle cx="288.6" cy="1506.98" r="8.75" fill="#fff" stroke="#000" stroke-width="1.4"/>
<circle cx="309.3" cy="1529.81" r="8.75" fill="#fff" stroke="#000" stroke-width="1.4"/>
<circle cx="330" cy="1519" r="8.75" fill="#fff" stroke="#000" stroke-width="1.4"/>
<circle cx="350.7" cy="1498.57" r="8.75" fill="#fff" stroke="#000" stroke-width="1.4"/>
<circle cx="371.4" cy="1470.94" r="8.75" fill="#fff" stroke="#000" stroke-width="1.4"/>
<circle cx="392.1" cy="1431.29" r="8.75" fill="#fff" stroke="#000" stroke-width="1.4"/>
<circle cx="412.8" cy="1399.09" r="8.75" fill="#fff" stroke="#000" stroke-width="1.4"/>
<circle cx="433.5" cy="1364" r="8.75" fill="#fff" stroke="#000" stroke-width="1.4"/>
<circle cx="454.2" cy="1331.56" r="8.75" fill="#fff" stroke="#000" stroke-width="1.4"/>
<circle cx="474.9" cy="1297.92" r="8.75" fill="#fff" stroke="#000" stroke-width="1.4"/>
<circle cx="495.6" cy="1241.45" r="8.75" fill="#fff" stroke="#000" stroke-width="1.4"/>
<circle cx="516.3" cy="1199.4" r="8.75" fill="#fff" stroke="#000" stroke-width="1.4"/>
<path d="M231.06 1389.31L242.64 1419.43M253.08 1442.55L262.02 1459.68M273.36 1482.4L283.14 1502.96M296.82 1524.11L301.08 1529.14M338.78 1518.47L341.92 1515.2M358.03 1495.65L364.07 1487.08M377.17 1465.39L386.33 1447.41M399.12 1425.51L405.78 1415.44M418.31 1393.41L427.99 1373.28M440.1 1350.99L447.6 1338.69M460.77 1316.97L468.33 1304.46M479.06 1281.6L491.44 1245.88M500.94 1222.36L510.96 1200.71" stroke="#000" stroke-width="2.5" stroke-linecap="round" fill="none"/>
<circle cx="226.5" cy="1377.46" r="9.2" fill="#000"/>
<circle cx="247.2" cy="1431.29" r="9.2" fill="#000"/>
<circle cx="267.9" cy="1470.94" r="9.2" fill="#000"/>
<circle cx="288.6" cy="1514.43" r="9.2" fill="#000"/>
<circle cx="309.3" cy="1538.82" r="9.2" fill="#000"/>
<circle cx="330" cy="1527.65" r="9.2" fill="#000"/>
<circle cx="350.7" cy="1506.02" r="9.2" fill="#000"/>
<circle cx="371.4" cy="1476.7" r="9.2" fill="#000"/>
<circle cx="392.1" cy="1436.09" r="9.2" fill="#000"/>
<circle cx="412.8" cy="1404.85" r="9.2" fill="#000"/>
<circle cx="433.5" cy="1361.84" r="9.2" fill="#000"/>
<circle cx="454.2" cy="1327.84" r="9.2" fill="#000"/>
<circle cx="474.9" cy="1293.6" r="9.2" fill="#000"/>
<circle cx="495.6" cy="1233.88" r="9.2" fill="#000"/>
<circle cx="516.3" cy="1189.18" r="9.2" fill="#000"/>
<path d="M231.28 1404.36L242.42 1429.26M252.44 1450.4L262.66 1470.81M274.4 1491L282.1 1502.54M296.78 1520.63L301.12 1525.05M338.57 1514.88L342.13 1511.58M357.58 1494.15L364.52 1484.61M377.48 1465.15L386.02 1451.13M398.6 1431.41L406.3 1419.87M418.33 1399.83L427.97 1381.88M440 1361.84L447.7 1350.3M460.66 1330.82L468.44 1319.09M478.93 1298.35L491.57 1263.97M501.2 1242.71L510.7 1225.29" stroke="#ff0000" stroke-width="2.5" stroke-linecap="round" fill="none"/>
<path fill="#ff0000" d="M218.35 1385.53h16.3v16.3h-16.3zM239.05 1431.79h16.3v16.3h-16.3zM259.75 1473.12h16.3v16.3h-16.3zM280.45 1504.12h16.3v16.3h-16.3zM301.15 1525.26h16.3v16.3h-16.3zM321.85 1514.69h16.3v16.3h-16.3zM342.55 1495.47h16.3v16.3h-16.3zM363.25 1466.99h16.3v16.3h-16.3zM383.95 1432.99h16.3v16.3h-16.3zM404.65 1401.99h16.3v16.3h-16.3zM425.35 1363.42h16.3v16.3h-16.3zM446.05 1332.42h16.3v16.3h-16.3zM466.75 1301.18h16.3v16.3h-16.3zM487.45 1244.83h16.3v16.3h-16.3zM508.15 1206.87h16.3v16.3h-16.3z"/>
<path d="M231.42 1397.57L242.28 1421.03M252.6 1442.03L262.5 1461.04M274.58 1481.03L281.92 1491.61M297.05 1509.31L300.85 1512.95M338.82 1503.38L341.88 1500.73M357.87 1483.8L364.23 1475.61M377.66 1456.49L385.84 1443.57M398.67 1424.01L406.23 1412.85M418.35 1392.87L427.95 1375.03M440 1354.99L447.7 1343.46M460.51 1323.87L468.59 1311.26M479.09 1290.48L491.41 1258.38M500.79 1236.97L511.11 1216.13" stroke="#00ff00" stroke-width="2.5" stroke-linecap="round" fill="none"/>
<path fill="#00ff00" d="M218.35 1378.8h16.3v16.3h-16.3zM239.05 1423.5h16.3v16.3h-16.3zM259.75 1463.27h16.3v16.3h-16.3zM280.45 1493.06h16.3v16.3h-16.3zM301.15 1512.89h16.3v16.3h-16.3zM321.85 1502.92h16.3v16.3h-16.3zM342.55 1484.89h16.3v16.3h-16.3zM363.25 1458.22h16.3v16.3h-16.3zM383.95 1425.54h16.3v16.3h-16.3zM404.65 1395.02h16.3v16.3h-16.3zM425.35 1356.57h16.3v16.3h-16.3zM446.05 1325.58h16.3v16.3h-16.3zM466.75 1293.25h16.3v16.3h-16.3zM487.45 1239.31h16.3v16.3h-16.3zM508.15 1197.5h16.3v16.3h-16.3z"/>
<path d="M230.61 1457.02L243.09 1490.26M251.8 1511.97L263.3 1538.88M273.83 1559.72L282.67 1574.75M296.11 1593.81L301.79 1600.61M318.87 1602.87L320.43 1601.78M337.66 1586.21L343.04 1579.99M356.85 1561.19L365.25 1547.57M376.56 1527.12L386.94 1505.95M397.78 1485.22L407.12 1468.43M417.53 1447.5L428.77 1422.04M439.1 1401.07L448.6 1383.65M459.75 1363.07L469.35 1345.23M478.41 1323.77L492.09 1280.36M500.14 1258.42L511.76 1230.85" stroke="#0000ff" stroke-width="2.5" stroke-linecap="round" fill="none"/>
<path fill="#0000ff" d="M218.35 1437.92h16.3v16.3h-16.3zM239.05 1493.06h16.3v16.3h-16.3zM259.75 1541.48h16.3v16.3h-16.3zM280.45 1576.69h16.3v16.3h-16.3zM301.15 1601.44h16.3v16.3h-16.3zM321.85 1586.9h16.3v16.3h-16.3zM342.55 1562.99h16.3v16.3h-16.3zM363.25 1529.47h16.3v16.3h-16.3zM383.95 1487.3h16.3v16.3h-16.3zM404.65 1450.05h16.3v16.3h-16.3zM425.35 1403.19h16.3v16.3h-16.3zM446.05 1365.22h16.3v16.3h-16.3zM466.75 1326.78h16.3v16.3h-16.3zM487.45 1261.05h16.3v16.3h-16.3zM508.15 1211.91h16.3v16.3h-16.3z"/>
<path d="M230.31 1318.71L243.39 1356.67M251.47 1378.62L263.63 1409.58M273.37 1430.82L283.13 1449.3M295.85 1468.82L302.05 1476.66M318.8 1479L320.5 1477.77M337.36 1461.84L343.34 1454.44M356.48 1435.17L365.62 1419.11M376.21 1398.27L387.29 1373.71M397.36 1352.59L407.54 1332.4M417.31 1311.16L428.99 1283.24M438.8 1262.02L448.9 1242.15M459.43 1221.25L469.67 1200.73M478.21 1179.04L492.29 1131.32M499.92 1109.22L511.98 1078.83" stroke="#00ffff" stroke-width="2.5" stroke-linecap="round" fill="none"/>
<path fill="#00ffff" d="M218.35 1299.5h16.3v16.3h-16.3zM239.05 1359.58h16.3v16.3h-16.3zM259.75 1412.32h16.3v16.3h-16.3zM280.45 1451.49h16.3v16.3h-16.3zM301.15 1477.69h16.3v16.3h-16.3zM321.85 1462.79h16.3v16.3h-16.3zM342.55 1437.19h16.3v16.3h-16.3zM363.25 1400.79h16.3v16.3h-16.3zM383.95 1354.89h16.3v16.3h-16.3zM404.65 1313.8h16.3v16.3h-16.3zM425.35 1264.3h16.3v16.3h-16.3zM446.05 1223.57h16.3v16.3h-16.3zM466.75 1182.12h16.3v16.3h-16.3zM487.45 1111.95h16.3v16.3h-16.3zM508.15 1059.8h16.3v16.3h-16.3z"/>
<path d="M230.65 1205.89L243.05 1238.56M251.89 1260.22L263.21 1286.12M273.94 1306.86L282.56 1321.18M296.08 1340.19L301.82 1347.08M318.9 1349.39L320.4 1348.34M337.48 1332.66L343.22 1325.78M356.78 1306.79L365.32 1292.78M376.58 1272.29L386.92 1251.34M397.74 1230.6L407.16 1213.49M417.51 1192.53L428.79 1166.85M439.24 1145.95L448.46 1129.57M459.69 1109.05L469.41 1090.78M478.45 1069.3L492.05 1026.6M500.13 1004.66L511.77 976.97" stroke="#ff00ff" stroke-width="2.5" stroke-linecap="round" fill="none"/>
<path fill="#ff00ff" d="M218.35 1186.8h16.3v16.3h-16.3zM239.05 1241.35h16.3v16.3h-16.3zM259.75 1288.69h16.3v16.3h-16.3zM280.45 1323.05h16.3v16.3h-16.3zM301.15 1347.92h16.3v16.3h-16.3zM321.85 1333.51h16.3v16.3h-16.3zM342.55 1308.63h16.3v16.3h-16.3zM363.25 1274.63h16.3v16.3h-16.3zM383.95 1232.7h16.3v16.3h-16.3zM404.65 1195.09h16.3v16.3h-16.3zM425.35 1147.99h16.3v16.3h-16.3zM446.05 1111.23h16.3v16.3h-16.3zM466.75 1072.3h16.3v16.3h-16.3zM487.45 1007.3h16.3v16.3h-16.3zM508.15 958.04h16.3v16.3h-16.3z"/>
</g>
<text x="0" y="0" font-size="46" text-anchor="middle" transform="translate(335.2 1012.8) scale(0.982 1)">La</text>
<path d="M634.6 1637.9v-4M634.6 881v4M676 1637.9v-8.2M676 881v8.2M717.4 1637.9v-4M717.4 881v4M758.8 1637.9v-8.2M758.8 881v8.2M800.2 1637.9v-4M800.2 881v4M841.6 1637.9v-8.2M841.6 881v8.2M883 1637.9v-4M883 881v4M593.2 1601.9h8.2M924.4 1601.9h-8.2M593.2 1541.83h4M924.4 1541.83h-4M593.2 1481.75h8.2M924.4 1481.75h-8.2M593.2 1421.68h4M924.4 1421.68h-4M593.2 1361.6h8.2M924.4 1361.6h-8.2M593.2 1301.53h4M924.4 1301.53h-4M593.2 1241.45h8.2M924.4 1241.45h-8.2M593.2 1181.38h4M924.4 1181.38h-4M593.2 1121.3h8.2M924.4 1121.3h-8.2M593.2 1061.22h4M924.4 1061.22h-4M593.2 1001.15h8.2M924.4 1001.15h-8.2M593.2 941.08h4M924.4 941.08h-4" stroke="#000" stroke-width="2" stroke-linecap="round" fill="none"/>
<rect x="593.2" y="881" width="331.2" height="756.9" fill="none" stroke="#000" stroke-width="2.1" stroke-linejoin="round"/>
<g transform="translate(584 1611.35)"><text x="0" y="0" font-size="36" transform="translate(-18.88 0) scale(0.943 1)">0</text></g>
<g transform="translate(584 1491.2)"><path d="M763 0H583V1098Q518 1038 412 979Q306 920 222 890V1057Q373 1124 486 1221Q599 1318 646 1409H763Z" transform="translate(-37.76 0) scale(0.02 -0.02)"/><text x="0" y="0" font-size="36" transform="translate(-18.88 0) scale(0.943 1)">0</text></g>
<g transform="translate(584 1371.05)"><text x="0" y="0" font-size="36" transform="translate(-37.76 0) scale(0.943 1)">20</text></g>
<g transform="translate(584 1250.9)"><text x="0" y="0" font-size="36" transform="translate(-37.76 0) scale(0.943 1)">30</text></g>
<g transform="translate(584 1130.75)"><text x="0" y="0" font-size="36" transform="translate(-37.76 0) scale(0.943 1)">40</text></g>
<g transform="translate(584 1010.6)"><text x="0" y="0" font-size="36" transform="translate(-37.76 0) scale(0.943 1)">50</text></g>
<g transform="translate(584 890.45)"><text x="0" y="0" font-size="36" transform="translate(-37.76 0) scale(0.943 1)">60</text></g>
<g transform="translate(593.2 1673.3)"><text x="0" y="0" font-size="35.2" transform="translate(-18.87 0) scale(0.964 1)">44</text></g>
<g transform="translate(676 1673.3)"><text x="0" y="0" font-size="35.2" transform="translate(-18.87 0) scale(0.964 1)">48</text></g>
<g transform="translate(758.8 1673.3)"><text x="0" y="0" font-size="35.2" transform="translate(-18.87 0) scale(0.964 1)">52</text></g>
<g transform="translate(841.6 1673.3)"><text x="0" y="0" font-size="35.2" transform="translate(-18.87 0) scale(0.964 1)">56</text></g>
<g transform="translate(924.4 1673.3)"><text x="0" y="0" font-size="35.2" transform="translate(-18.87 0) scale(0.964 1)">60</text></g>
<g clip-path="url(#c4)">
<path d="M661.47 1454.4L669.83 1469.45M683.02 1491.14L689.68 1501.2M705.74 1520.71L708.36 1523.29M745.93 1510.2L750.97 1503.76M768.11 1485.12L770.19 1483.18M785.12 1463.15L794.58 1444M805.32 1420.99L815.78 1397.25M829.19 1376.01L833.31 1371.22M848.09 1350.68L855.81 1337.68M869.32 1316.17L875.98 1306.1M887.54 1283.66L899.16 1253.31M910.02 1230.44L918.08 1216.42" stroke="#000" stroke-width="2.5" stroke-linecap="round" fill="none"/>
<circle cx="655.3" cy="1443.3" r="8.75" fill="#fff" stroke="#000" stroke-width="1.4"/>
<circle cx="676" cy="1480.55" r="8.75" fill="#fff" stroke="#000" stroke-width="1.4"/>
<circle cx="696.7" cy="1511.79" r="8.75" fill="#fff" stroke="#000" stroke-width="1.4"/>
<circle cx="717.4" cy="1532.21" r="8.75" fill="#fff" stroke="#000" stroke-width="1.4"/>
<circle cx="738.1" cy="1520.2" r="8.75" fill="#fff" stroke="#000" stroke-width="1.4"/>
<circle cx="758.8" cy="1493.77" r="8.75" fill="#fff" stroke="#000" stroke-width="1.4"/>
<circle cx="779.5" cy="1474.54" r="8.75" fill="#fff" stroke="#000" stroke-width="1.4"/>
<circle cx="800.2" cy="1432.61" r="8.75" fill="#fff" stroke="#000" stroke-width="1.4"/>
<circle cx="820.9" cy="1385.63" r="8.75" fill="#fff" stroke="#000" stroke-width="1.4"/>
<circle cx="841.6" cy="1361.6" r="8.75" fill="#fff" stroke="#000" stroke-width="1.4"/>
<circle cx="862.3" cy="1326.76" r="8.75" fill="#fff" stroke="#000" stroke-width="1.4"/>
<circle cx="883" cy="1295.52" r="8.75" fill="#fff" stroke="#000" stroke-width="1.4"/>
<circle cx="903.7" cy="1241.45" r="8.75" fill="#fff" stroke="#000" stroke-width="1.4"/>
<circle cx="924.4" cy="1205.41" r="8.75" fill="#fff" stroke="#000" stroke-width="1.4"/>
<path d="M661.47 1453.56L669.83 1468.61M681.93 1490.94L690.77 1507.65M705.06 1528.44L709.04 1532.99M745.55 1518.56L751.35 1510.54M767.71 1491.2L770.59 1488.28M785.12 1467.84L794.58 1448.68M804.81 1425.46L816.29 1396.02M828.71 1374.17L833.79 1367.65M847.99 1346.66L855.91 1333.05M869.1 1311.34L876.2 1300.12M887.4 1277.47L899.3 1245.19M909.88 1222.19L918.22 1207.25" stroke="#000" stroke-width="2.5" stroke-linecap="round" fill="none"/>
<circle cx="655.3" cy="1442.46" r="9.2" fill="#000"/>
<circle cx="676" cy="1479.71" r="9.2" fill="#000"/>
<circle cx="696.7" cy="1518.88" r="9.2" fill="#000"/>
<circle cx="717.4" cy="1542.55" r="9.2" fill="#000"/>
<circle cx="738.1" cy="1528.85" r="9.2" fill="#000"/>
<circle cx="758.8" cy="1500.25" r="9.2" fill="#000"/>
<circle cx="779.5" cy="1479.23" r="9.2" fill="#000"/>
<circle cx="800.2" cy="1437.29" r="9.2" fill="#000"/>
<circle cx="820.9" cy="1384.19" r="9.2" fill="#000"/>
<circle cx="841.6" cy="1357.64" r="9.2" fill="#000"/>
<circle cx="862.3" cy="1322.07" r="9.2" fill="#000"/>
<circle cx="883" cy="1289.39" r="9.2" fill="#000"/>
<circle cx="903.7" cy="1233.28" r="9.2" fill="#000"/>
<circle cx="924.4" cy="1196.15" r="9.2" fill="#000"/>
<path d="M661.04 1460.95L670.26 1477.32M683.07 1496.84L689.63 1505.47M704.74 1523.29L709.36 1528.16M727.52 1530.79L727.98 1530.52M745.4 1515.5L751.5 1507.84M767.5 1490.87L770.8 1487.89M784.97 1469.72L794.73 1451.24M804.76 1430.12L816.34 1402.77M828.62 1383.21L833.88 1377.24M847.84 1358.55L856.06 1345.54M869.07 1326.1L876.23 1316M887.22 1295.54L899.48 1263.9M910.23 1243.28L917.87 1231.93" stroke="#ff0000" stroke-width="2.5" stroke-linecap="round" fill="none"/>
<path fill="#ff0000" d="M647.15 1442.6h16.3v16.3h-16.3zM667.85 1479.37h16.3v16.3h-16.3zM688.55 1506.64h16.3v16.3h-16.3zM709.25 1528.51h16.3v16.3h-16.3zM729.95 1516.49h16.3v16.3h-16.3zM750.65 1490.54h16.3v16.3h-16.3zM771.35 1471.92h16.3v16.3h-16.3zM792.05 1432.75h16.3v16.3h-16.3zM812.75 1383.85h16.3v16.3h-16.3zM833.45 1360.3h16.3v16.3h-16.3zM854.15 1327.5h16.3v16.3h-16.3zM874.85 1298.3h16.3v16.3h-16.3zM895.55 1244.83h16.3v16.3h-16.3zM916.25 1214.08h16.3v16.3h-16.3z"/>
<path d="M661 1453.16L670.3 1469.85M683.28 1489.23L689.42 1496.98M705.15 1514.23L708.95 1517.87M727.7 1520.41L727.8 1520.35M745.4 1505.64L751.5 1497.99M767.47 1480.99L770.83 1477.95M785.28 1459.92L794.42 1443.86M804.84 1422.95L816.26 1396.49M828.78 1377.1L833.72 1371.69M847.75 1353.09L856.15 1339.47M869.05 1319.96L876.25 1309.76M887.27 1289.31L899.43 1258.35M909.72 1237.43L918.38 1223.01" stroke="#00ff00" stroke-width="2.5" stroke-linecap="round" fill="none"/>
<path fill="#00ff00" d="M647.15 1434.79h16.3v16.3h-16.3zM667.85 1471.92h16.3v16.3h-16.3zM688.55 1497.99h16.3v16.3h-16.3zM709.25 1517.82h16.3v16.3h-16.3zM729.95 1506.64h16.3v16.3h-16.3zM750.65 1480.69h16.3v16.3h-16.3zM771.35 1461.95h16.3v16.3h-16.3zM792.05 1425.54h16.3v16.3h-16.3zM812.75 1377.6h16.3v16.3h-16.3zM833.45 1354.89h16.3v16.3h-16.3zM854.15 1321.37h16.3v16.3h-16.3zM874.85 1292.05h16.3v16.3h-16.3zM895.55 1239.31h16.3v16.3h-16.3zM916.25 1204.82h16.3v16.3h-16.3z"/>
<path d="M660.42 1526.15L670.88 1547.65M682.31 1568.02L690.39 1580.63M704.4 1599.29L709.7 1605.35M726.61 1606.94L728.89 1605.15M744.53 1588.16L752.37 1576.23M766.52 1557.67L771.78 1551.69M784.34 1532.26L795.36 1508.02M804.09 1486.33L817.01 1449.65M827.78 1429.15L834.72 1419.6M846.88 1399.7L857.02 1379.61M868.29 1359.12L877.01 1344.5M886.69 1323.34L900.01 1283.19M908.9 1261.61L919.2 1240.88" stroke="#0000ff" stroke-width="2.5" stroke-linecap="round" fill="none"/>
<path fill="#0000ff" d="M647.15 1507.48h16.3v16.3h-16.3zM667.85 1550.02h16.3v16.3h-16.3zM688.55 1582.34h16.3v16.3h-16.3zM709.25 1606.01h16.3v16.3h-16.3zM729.95 1589.79h16.3v16.3h-16.3zM750.65 1558.31h16.3v16.3h-16.3zM771.35 1534.76h16.3v16.3h-16.3zM792.05 1489.22h16.3v16.3h-16.3zM812.75 1430.47h16.3v16.3h-16.3zM833.45 1401.99h16.3v16.3h-16.3zM854.15 1361.02h16.3v16.3h-16.3zM874.85 1326.3h16.3v16.3h-16.3zM895.55 1263.94h16.3v16.3h-16.3zM916.25 1222.25h16.3v16.3h-16.3z"/>
<path d="M660.07 1397.16L671.23 1422.16M681.98 1442.91L690.72 1457.63M703.98 1476.86L710.12 1484.6M726.35 1486.23L729.15 1483.88M744.15 1466.33L752.75 1452.11M766.31 1433.13L771.99 1426.32M784.1 1406.59L795.6 1379.69M803.85 1357.81L817.25 1316.97M827.29 1296.05L835.21 1283.93M846.69 1263.59L857.21 1241.77M867.85 1220.94L877.45 1203.09M886.54 1181.64L900.16 1138.7M908.57 1116.91L919.53 1093.01" stroke="#00ffff" stroke-width="2.5" stroke-linecap="round" fill="none"/>
<path fill="#00ffff" d="M647.15 1378.32h16.3v16.3h-16.3zM667.85 1424.7h16.3v16.3h-16.3zM688.55 1459.54h16.3v16.3h-16.3zM709.25 1485.62h16.3v16.3h-16.3zM729.95 1468.19h16.3v16.3h-16.3zM750.65 1433.95h16.3v16.3h-16.3zM771.35 1409.2h16.3v16.3h-16.3zM792.05 1360.78h16.3v16.3h-16.3zM812.75 1297.7h16.3v16.3h-16.3zM833.45 1265.98h16.3v16.3h-16.3zM854.15 1223.09h16.3v16.3h-16.3zM874.85 1184.64h16.3v16.3h-16.3zM895.55 1119.4h16.3v16.3h-16.3zM916.25 1074.22h16.3v16.3h-16.3z"/>
<path d="M660.5 1284.61L670.8 1305.34M682.43 1325.6L690.27 1337.53M704.65 1355.89L709.45 1361.07M726.64 1362.47L728.86 1360.73M744.49 1343.75L752.41 1331.63M766.55 1313.06L771.75 1307.17M784.34 1287.75L795.36 1263.52M804.16 1241.85L816.94 1206.32M827.65 1185.75L834.85 1175.55M847.08 1155.66L856.82 1137.28M868.26 1116.88L877.04 1102.05M886.77 1080.91L899.93 1042.26M908.88 1020.7L919.22 999.75" stroke="#ff00ff" stroke-width="2.5" stroke-linecap="round" fill="none"/>
<path fill="#ff00ff" d="M647.15 1265.98h16.3v16.3h-16.3zM667.85 1307.67h16.3v16.3h-16.3zM688.55 1339.15h16.3v16.3h-16.3zM709.25 1361.5h16.3v16.3h-16.3zM729.95 1345.4h16.3v16.3h-16.3zM750.65 1313.68h16.3v16.3h-16.3zM771.35 1290.25h16.3v16.3h-16.3zM792.05 1244.71h16.3v16.3h-16.3zM812.75 1187.16h16.3v16.3h-16.3zM833.45 1157.85h16.3v16.3h-16.3zM854.15 1118.8h16.3v16.3h-16.3zM874.85 1083.83h16.3v16.3h-16.3zM895.55 1023.04h16.3v16.3h-16.3zM916.25 981.11h16.3v16.3h-16.3z"/>
</g>
<text x="0" y="0" font-size="46" text-anchor="middle" transform="translate(750.3 1012.1) scale(0.982 1)">Ce</text>
<text x="0" y="0" font-size="70.2" transform="translate(1130.02 894.9) scale(0.97 1)">N</text>
<text x="0" y="0" font-size="41" transform="translate(1178.52 921.3) scale(0.975 1)">d</text>
<text x="0" y="0" font-size="70.2" transform="translate(314.52 1760.2) scale(0.97 1)">N</text>
<text x="0" y="0" font-size="41" transform="translate(363.02 1786.6) scale(0.975 1)">d</text>
<text x="0" y="0" font-size="70.2" transform="translate(722.32 1760.2) scale(0.97 1)">N</text>
<text x="0" y="0" font-size="41" transform="translate(770.82 1786.6) scale(0.975 1)">d</text>
<g transform="translate(49.5 1050.9) rotate(-90)"><g transform="translate(0 0)"><text x="0" y="0" font-size="70.5" transform="translate(0 0) scale(0.969 1)">Log</text></g><g transform="translate(113.98 26.6)"><path d="M763 0H583V1098Q518 1038 412 979Q306 920 222 890V1057Q373 1124 486 1221Q599 1318 646 1409H763Z" transform="translate(0 0) scale(0.02 -0.02)"/><text x="0" y="0" font-size="42.4" transform="translate(22.85 0) scale(0.969 1)">0</text></g><g transform="translate(159.68 0)"><text x="0" y="0" font-size="70.5" transform="translate(0 0) scale(0.969 1)">T</text></g><g transform="translate(201.41 26.6)"><path d="M763 0H583V1098Q518 1038 412 979Q306 920 222 890V1057Q373 1124 486 1221Q599 1318 646 1409H763Z" transform="translate(0 0) scale(0.02 -0.02)"/><text x="0" y="0" font-size="42.4" transform="translate(22.85 0) scale(0.969 1)">/2</text></g><g transform="translate(258.52 0)"><text x="0" y="0" font-size="70.5" transform="translate(0 0) scale(0.969 1)">&#160;(s)</text></g></g>
<path d="M998 1093H1116" stroke="#000" stroke-width="2.3"/>
<circle cx="1057.2" cy="1093" r="19.2" fill="#fff" stroke="#000" stroke-width="2.3"/>
<text x="0" y="0" font-size="47" transform="translate(1126.7 1109.2) scale(0.966 1)">ELDM</text>
<path d="M998 1148.5H1116" stroke="#000" stroke-width="2.3"/>
<circle cx="1057.2" cy="1148.5" r="20.4" fill="#000"/>
<text x="0" y="0" font-size="47" transform="translate(1126.7 1164.7) scale(0.966 1)">GLDM</text>
<path d="M998 1204H1116" stroke="#ff0000" stroke-width="2.3"/>
<rect x="1038.5" y="1185.6" width="37.4" height="36.8" rx="1.5" fill="#ff0000"/>
<text x="0" y="0" font-size="47" transform="translate(1126.7 1220.2) scale(0.966 1)">UDL</text>
<path d="M998 1259.5H1116" stroke="#00ff00" stroke-width="2.3"/>
<rect x="1038.5" y="1241.1" width="37.4" height="36.8" rx="1.5" fill="#00ff00"/>
<text x="0" y="0" font-size="47" transform="translate(1126.7 1275.7) scale(0.966 1)">UNIV</text>
<path d="M998 1315H1116" stroke="#0000ff" stroke-width="2.3"/>
<rect x="1038.5" y="1296.6" width="37.4" height="36.8" rx="1.5" fill="#0000ff"/>
<text x="0" y="0" font-size="47" transform="translate(1126.7 1331.2) scale(0.966 1)">Horoi</text>
<path d="M998 1370.5H1116" stroke="#00ffff" stroke-width="2.3"/>
<rect x="1038.5" y="1352.1" width="37.4" height="36.8" rx="1.5" fill="#00ffff"/>
<text x="0" y="0" font-size="47" transform="translate(1126.7 1386.7) scale(0.966 1)">TM</text>
<path d="M998 1426H1116" stroke="#ff00ff" stroke-width="2.3"/>
<rect x="1038.5" y="1407.6" width="37.4" height="36.8" rx="1.5" fill="#ff00ff"/>
<text x="0" y="0" font-size="47" transform="translate(1126.7 1442.2) scale(0.966 1)">BKAG</text>
</svg></body></html>
